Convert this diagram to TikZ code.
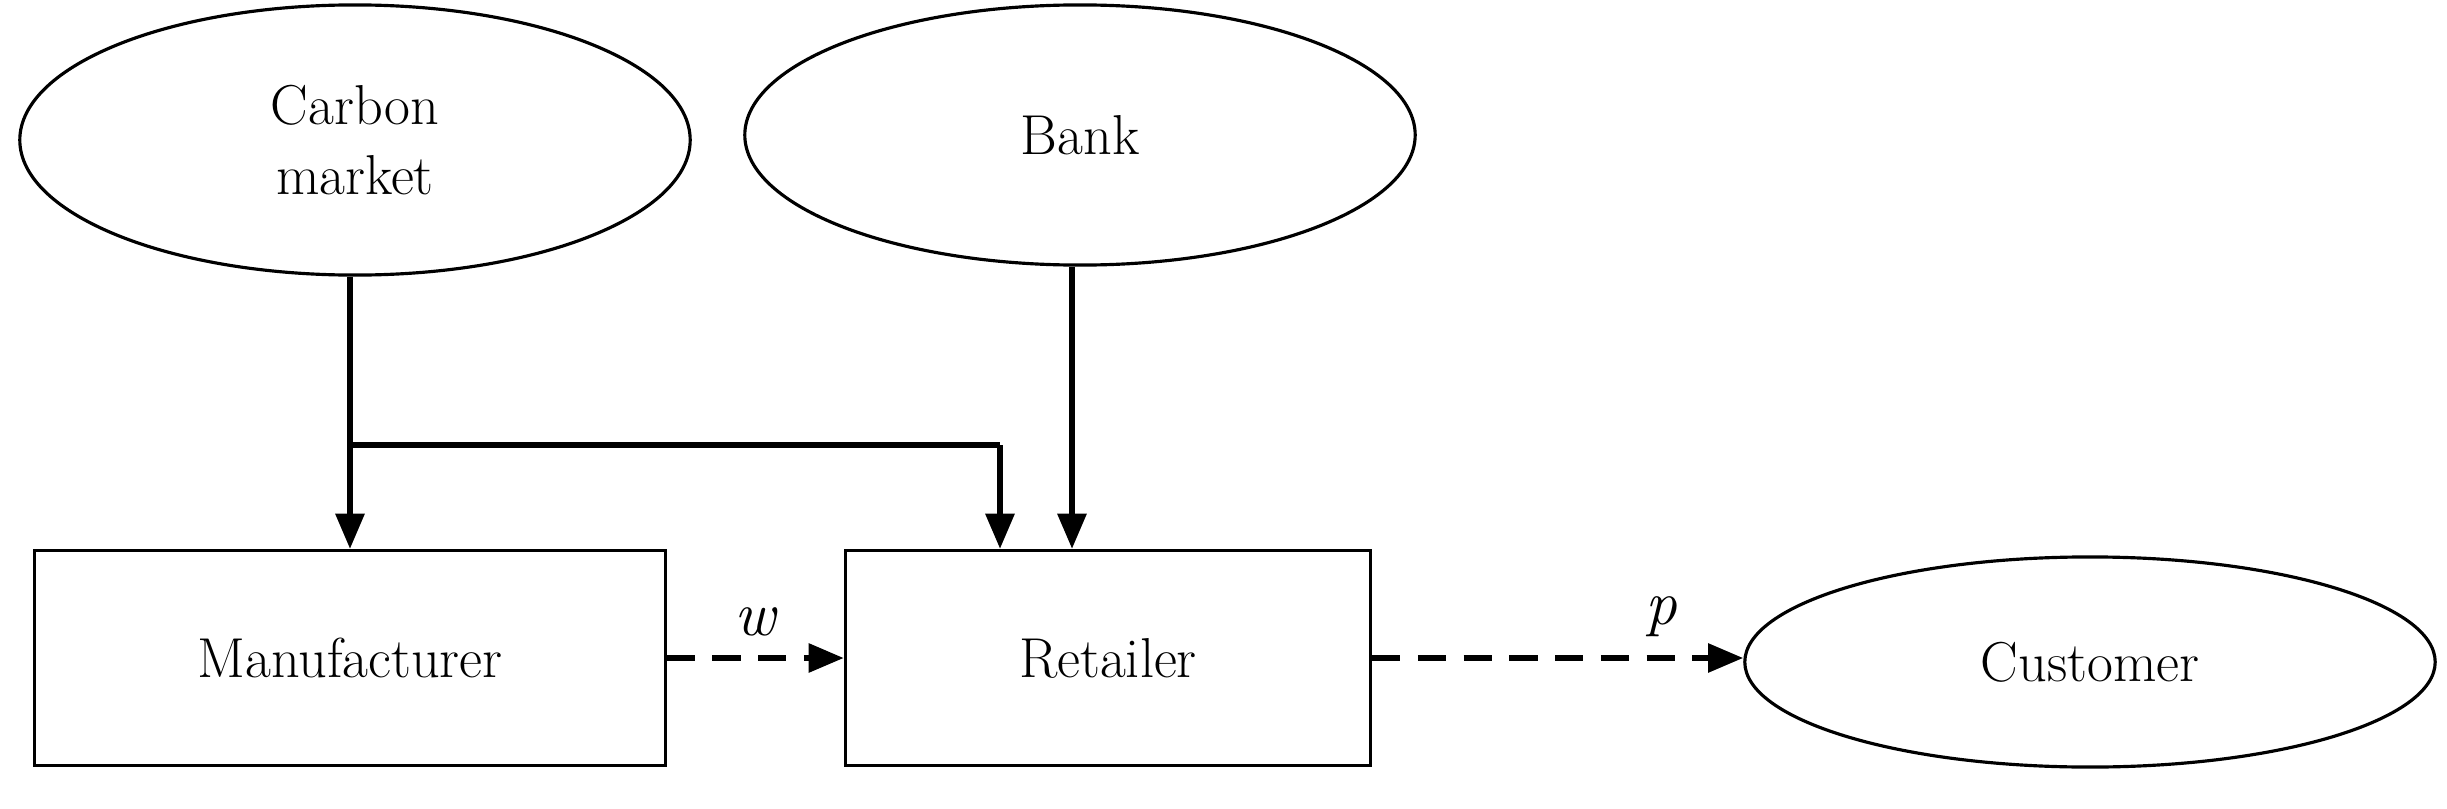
\documentclass[tikz,border=0pt]{standalone}
\usetikzlibrary{shapes.geometric,arrows.meta}
\begin{document}
\begin{tikzpicture}[x=0.01cm,y=-0.01cm,
 ell/.style={draw,ellipse,line width=0.9pt,font=\fontsize{16}{20}\selectfont,align=center},
 box/.style={draw,rectangle,line width=0.9pt,font=\fontsize{16}{20}\selectfont},
 arr/.style={line width=1.6pt,-{Triangle[length=10pt,width=8pt]}},
 lab/.style={font=\fontsize{18}{20}\selectfont\itshape}]
\useasboundingbox (0,0) rectangle (2447,809);
\node[ell,minimum width=6.7cm,minimum height=2.7cm] (cm) at (355,140) {Carbon\\market};
\node[ell,minimum width=6.7cm,minimum height=2.6cm] (bank) at (1080,135) {Bank};
\node[box,minimum width=6.3cm,minimum height=2.15cm] (man) at (350,658) {Manufacturer};
\node[box,minimum width=5.25cm,minimum height=2.15cm] (ret) at (1108,658) {Retailer};
\node[ell,minimum width=6.9cm,minimum height=2.1cm] (cus) at (2090,662) {Customer};
\coordinate (j) at (350,445);
\draw[arr] (cm.south -| j) -- (man.north -| j);
\draw[line width=1.6pt] (j) -- (1000,445) coordinate (k);
\draw[arr] (k) -- (ret.north -| k);
\coordinate (b) at (1072,0);
\draw[arr] (bank.south -| b) -- (ret.north -| b);
\draw[arr,dash pattern=on 8pt off 5pt] (man.east) -- (ret.west) node[lab,midway,above=2pt] {w};
\draw[arr,dash pattern=on 8pt off 5pt] (ret.east) -- (ret.east -| cus.west) node[lab,pos=0.78,above=2pt] {p};
\end{tikzpicture}
\end{document}
